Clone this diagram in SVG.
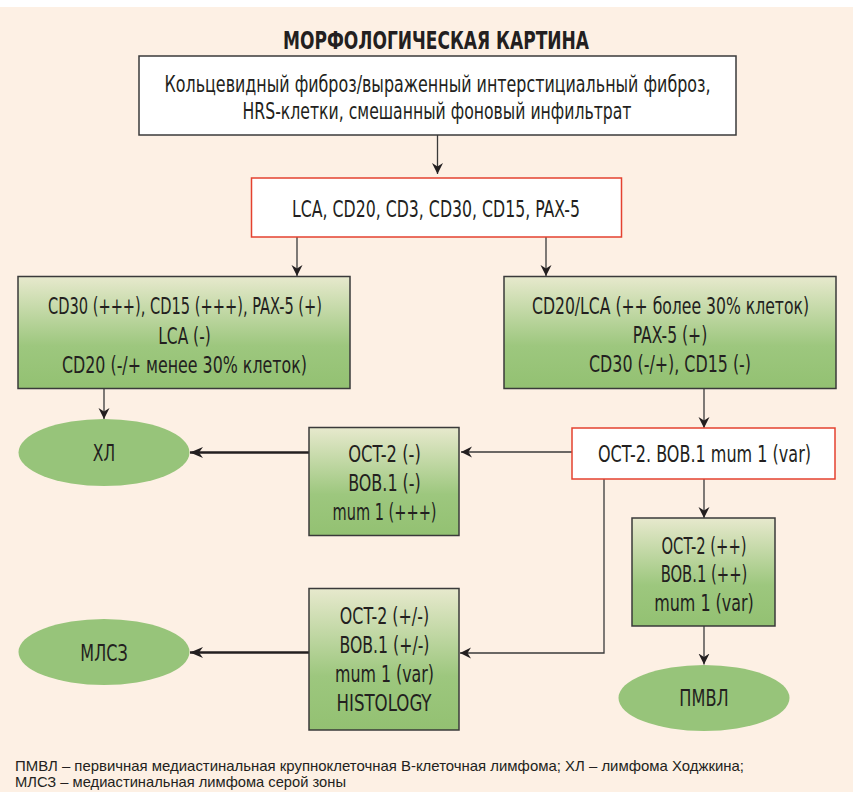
<svg xmlns="http://www.w3.org/2000/svg" width="853" height="792" viewBox="0 0 853 792">
<defs>
<linearGradient id="g" x1="0" y1="0" x2="0" y2="1">
<stop offset="0" stop-color="#e7e9cd"/>
<stop offset="0.62" stop-color="#9dc77e"/>
<stop offset="1" stop-color="#93c172"/>
</linearGradient>
<marker id="ah" markerUnits="userSpaceOnUse" markerWidth="12" markerHeight="12" refX="11" refY="6" orient="auto" viewBox="0 0 12 12">
<path d="M0,0.5 L11,6 L0,11.5 L3.5,6 Z" fill="#231f20"/>
</marker>
<marker id="ahb" markerUnits="userSpaceOnUse" markerWidth="14" markerHeight="12" refX="13" refY="6" orient="auto" viewBox="0 0 14 12">
<path d="M0,0.5 L13,6 L0,11.5 L4,6 Z" fill="#231f20"/>
</marker>
</defs>
<style>
.t{font-family:"Liberation Sans Narrow","DejaVu Sans Condensed","Liberation Sans",sans-serif;font-size:23px;fill:#231f20;text-anchor:middle}
.h{font-family:"Liberation Sans Narrow","DejaVu Sans Condensed","Liberation Sans",sans-serif;font-size:24px;font-weight:bold;fill:#231f20;text-anchor:middle}
.lg{font-family:"Liberation Sans","DejaVu Sans",sans-serif;font-size:14.5px;fill:#231f20}
.bw{fill:#ffffff;stroke:#3a3a3a;stroke-width:1.5}
.br{fill:#ffffff;stroke:#e4412f;stroke-width:1.5}
.bg{fill:url(#g);stroke:#3a3a3a;stroke-width:1.5}
.el{fill:#97c47a}
.c{fill:none;stroke:#3a3a3a;stroke-width:1.3}
.cb{fill:none;stroke:#231f20;stroke-width:2.6}
</style>
<rect x="0" y="0" width="853" height="792" fill="#ffffff"/>
<rect x="0" y="7" width="853" height="785" fill="#fdf0e4"/>
<text class="h" x="436" y="49" textLength="306" lengthAdjust="spacingAndGlyphs">МОРФОЛОГИЧЕСКАЯ КАРТИНА</text>

<g id="connectors">
<path class="c" d="M437.5,135 V174" marker-end="url(#ah)"/>
<path class="c" d="M297,237 V276" marker-end="url(#ah)"/>
<path class="c" d="M546,237 V276" marker-end="url(#ah)"/>
<path class="c" d="M104,388.5 V419" marker-end="url(#ah)"/>
<path class="cb" d="M309,452.5 H190" marker-end="url(#ahb)"/>
<path class="c" d="M704,388.5 V428" marker-end="url(#ah)"/>
<path class="c" d="M572,452 H461" marker-end="url(#ah)"/>
<path class="c" d="M704,479 V518" marker-end="url(#ah)"/>
<path class="c" d="M604,479 V653 H460" marker-end="url(#ah)"/>
<path class="c" d="M704,626 V664.5" marker-end="url(#ah)"/>
<path class="cb" d="M309,652.5 H190" marker-end="url(#ahb)"/>
</g>

<g id="morph">
<rect class="bw" x="139" y="56" width="597" height="79"/>
<text class="t" x="437.5" y="92" textLength="546" lengthAdjust="spacingAndGlyphs">Кольцевидный фиброз/выраженный интерстициальный фиброз,</text>
<text class="t" x="437" y="119" textLength="389" lengthAdjust="spacingAndGlyphs">HRS-клетки, смешанный фоновый инфильтрат</text>
</g>

<g id="panel1">
<rect class="br" x="251.5" y="178" width="370" height="59"/>
<text class="t" x="436" y="217" textLength="288" lengthAdjust="spacingAndGlyphs">LCA, CD20, CD3, CD30, CD15, PAX-5</text>
</g>

<g id="hl-profile">
<rect class="bg" x="18" y="276.5" width="332" height="112"/>
<text class="t" x="185" y="314" textLength="274" lengthAdjust="spacingAndGlyphs">CD30 (+++), CD15 (+++), PAX-5 (+)</text>
<text class="t" x="184.5" y="343.5" textLength="52.5" lengthAdjust="spacingAndGlyphs">LCA (-)</text>
<text class="t" x="184.5" y="373" textLength="245" lengthAdjust="spacingAndGlyphs">CD20 (-/+ менее 30% клеток)</text>
</g>

<g id="b-profile">
<rect class="bg" x="504" y="276.5" width="332" height="112"/>
<text class="t" x="670.5" y="313.5" textLength="277" lengthAdjust="spacingAndGlyphs">CD20/LCA (++ более 30% клеток)</text>
<text class="t" x="670" y="343" textLength="74.6" lengthAdjust="spacingAndGlyphs">PAX-5 (+)</text>
<text class="t" x="670" y="372" textLength="162" lengthAdjust="spacingAndGlyphs">CD30 (-/+), CD15 (-)</text>
</g>

<g id="hl">
<ellipse class="el" cx="104" cy="452.5" rx="85.5" ry="33.5"/>
<text class="t" x="104" y="461" textLength="22.3" lengthAdjust="spacingAndGlyphs">ХЛ</text>
</g>

<g id="oct-neg">
<rect class="bg" x="309" y="427.5" width="150" height="108"/>
<text class="t" x="384.5" y="461.5" textLength="72.7" lengthAdjust="spacingAndGlyphs">OCT-2 (-)</text>
<text class="t" x="384.5" y="490.5" textLength="72.7" lengthAdjust="spacingAndGlyphs">BOB.1 (-)</text>
<text class="t" x="384.5" y="519.5" textLength="104" lengthAdjust="spacingAndGlyphs">mum 1 (+++)</text>
</g>

<g id="panel2">
<rect class="br" x="572" y="428" width="263" height="51"/>
<text class="t" x="704.5" y="462" textLength="213" lengthAdjust="spacingAndGlyphs">OCT-2. BOB.1 mum 1 (var)</text>
</g>

<g id="oct-pos">
<rect class="bg" x="632" y="518" width="143" height="108"/>
<text class="t" x="704" y="553.5" textLength="85" lengthAdjust="spacingAndGlyphs">OCT-2 (++)</text>
<text class="t" x="704" y="582" textLength="86.7" lengthAdjust="spacingAndGlyphs">BOB.1 (++)</text>
<text class="t" x="704" y="611" textLength="99.7" lengthAdjust="spacingAndGlyphs">mum 1 (var)</text>
</g>

<g id="pmbl">
<ellipse class="el" cx="704" cy="698" rx="85.5" ry="33"/>
<text class="t" x="704" y="706" textLength="49.3" lengthAdjust="spacingAndGlyphs">ПМВЛ</text>
</g>

<g id="oct-var">
<rect class="bg" x="309" y="588.5" width="150" height="141.5"/>
<text class="t" x="384.5" y="624" textLength="89.3" lengthAdjust="spacingAndGlyphs">OCT-2 (+/-)</text>
<text class="t" x="384.5" y="653" textLength="90" lengthAdjust="spacingAndGlyphs">BOB.1 (+/-)</text>
<text class="t" x="384.5" y="682" textLength="99" lengthAdjust="spacingAndGlyphs">mum 1 (var)</text>
<text class="t" x="384" y="711" textLength="95" lengthAdjust="spacingAndGlyphs">HISTOLOGY</text>
</g>

<g id="mgzl">
<ellipse class="el" cx="104" cy="652" rx="85.5" ry="33"/>
<text class="t" x="104" y="660.5" textLength="47.3" lengthAdjust="spacingAndGlyphs">МЛСЗ</text>
</g>

<g id="legend">
<text class="lg" x="15" y="770.5" textLength="729" lengthAdjust="spacingAndGlyphs">ПМВЛ – первичная медиастинальная крупноклеточная В-клеточная лимфома; ХЛ – лимфома Ходжкина;</text>
<text class="lg" x="15" y="787" textLength="331" lengthAdjust="spacingAndGlyphs">МЛСЗ – медиастинальная лимфома серой зоны</text>
</g>
</svg>
